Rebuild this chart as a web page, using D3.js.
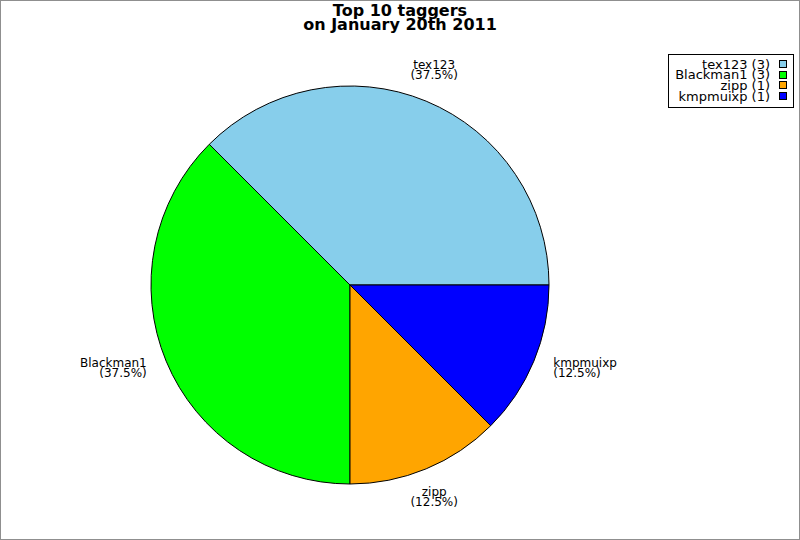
<!DOCTYPE html>
<html>
<head>
<meta charset="utf-8">
<script src="https://cdn.jsdelivr.net/npm/d3@7"></script>
<style>
  body { margin: 0; background: white; }
  text { font-family: "DejaVu Sans", sans-serif; }
</style>
</head>
<body>
<div class="svg-container"></div>
<script>
/*** Data ***/
const taggers = ['tex123', 'Blackman1', 'zipp', 'kmpmuixp']
const counts = [3, 3, 1, 1]
const colors = ['#87ceeb', '#00ff00', '#ffa500', '#0000ff']
const titleLines = ['Top 10 taggers', 'on January 20th 2011']

const svgWidth = 800
const svgHeight = 540

const cx = 350
const cy = 285
const radius = 199
const labelRadius = 220

let svg = d3.select('.svg-container')
    .append('svg')
    .attr('width', svgWidth)
    .attr('height', svgHeight)

// frame
svg.append('rect')
    .attr('x', 0.5)
    .attr('y', 0.5)
    .attr('width', svgWidth - 1)
    .attr('height', svgHeight - 1)
    .attr('fill', 'white')
    .attr('stroke', '#8f8f8f')

// title
svg.append('g')
    .selectAll('text')
    .data(titleLines)
    .enter()
    .append('text')
    .attr('x', 400)
    .attr('y', (d, i) => 16 + i * 13.5)
    .attr('text-anchor', 'middle')
    .style('font-size', '16px')
    .style('font-weight', 'bold')
    .text(d => d)

/* pie, counter-clockwise from 3 o'clock */
let total = d3.sum(counts)
let rows = taggers.map((t, i) => ({ name: t, value: counts[i], color: colors[i] }))

let pie = d3.pie()
    .value(d => d.value)
    .sort(null)
    .startAngle(Math.PI / 2)
    .endAngle(Math.PI / 2 - 2 * Math.PI)

let arc = d3.arc()
    .innerRadius(0)
    .outerRadius(radius)

let graph = svg.append('g')
    .attr('transform', `translate(${cx}, ${cy})`)

let slices = pie(rows)

graph.selectAll('path')
    .data(slices)
    .enter()
    .append('path')
    .attr('d', arc)
    .attr('fill', d => d.data.color)
    .attr('stroke', 'black')
    .attr('stroke-width', 1)

// slice labels
let labels = graph.selectAll('.label')
    .data(slices)
    .enter()
    .append('text')
    .attr('class', 'label')
    .style('font-size', '12px')
    .each(function (d) {
        let a = (d.startAngle + d.endAngle) / 2
        let lx = Math.sin(a) * labelRadius
        let ly = -Math.cos(a) * labelRadius
        let anchor = 'middle'
        if (Math.sin(a) > 0.7) anchor = 'start'
        if (Math.sin(a) < -0.7) anchor = 'end'
        let shift = 0
        if (-Math.cos(a) < -0.7) shift = -10
        if (-Math.cos(a) > 0.7) shift = 10
        let pct = (d.data.value / total * 100).toFixed(1) + '%'
        let t = d3.select(this)
            .attr('text-anchor', anchor)
        t.append('tspan')
            .attr('x', lx)
            .attr('y', ly - 2.5 + shift)
            .text(d.data.name)
        t.append('tspan')
            .attr('x', lx)
            .attr('y', ly + 7.5 + shift)
            .text('(' + pct + ')')
    })

/* legend */
let legend = svg.append('g')

legend.append('rect')
    .attr('x', 668.5)
    .attr('y', 54.5)
    .attr('width', 125)
    .attr('height', 53)
    .attr('fill', 'white')
    .attr('stroke', 'black')

let rowScale = d3.scaleLinear()
    .domain([0, rows.length])
    .range([60, 60 + rows.length * 10.67])

legend.selectAll('.swatch')
    .data(rows)
    .enter()
    .append('rect')
    .attr('class', 'swatch')
    .attr('x', 779.5)
    .attr('y', (d, i) => Math.round(rowScale(i)) + 0.5)
    .attr('width', 7)
    .attr('height', 7)
    .attr('fill', d => d.color)
    .attr('stroke', 'black')

legend.selectAll('.entry')
    .data(rows)
    .enter()
    .append('text')
    .attr('class', 'entry')
    .attr('x', 770)
    .attr('y', (d, i) => rowScale(i) + 8.5)
    .attr('text-anchor', 'end')
    .style('font-size', '13px')
    .text(d => `${d.name} (${d.value})`)
</script>
</body>
</html>
